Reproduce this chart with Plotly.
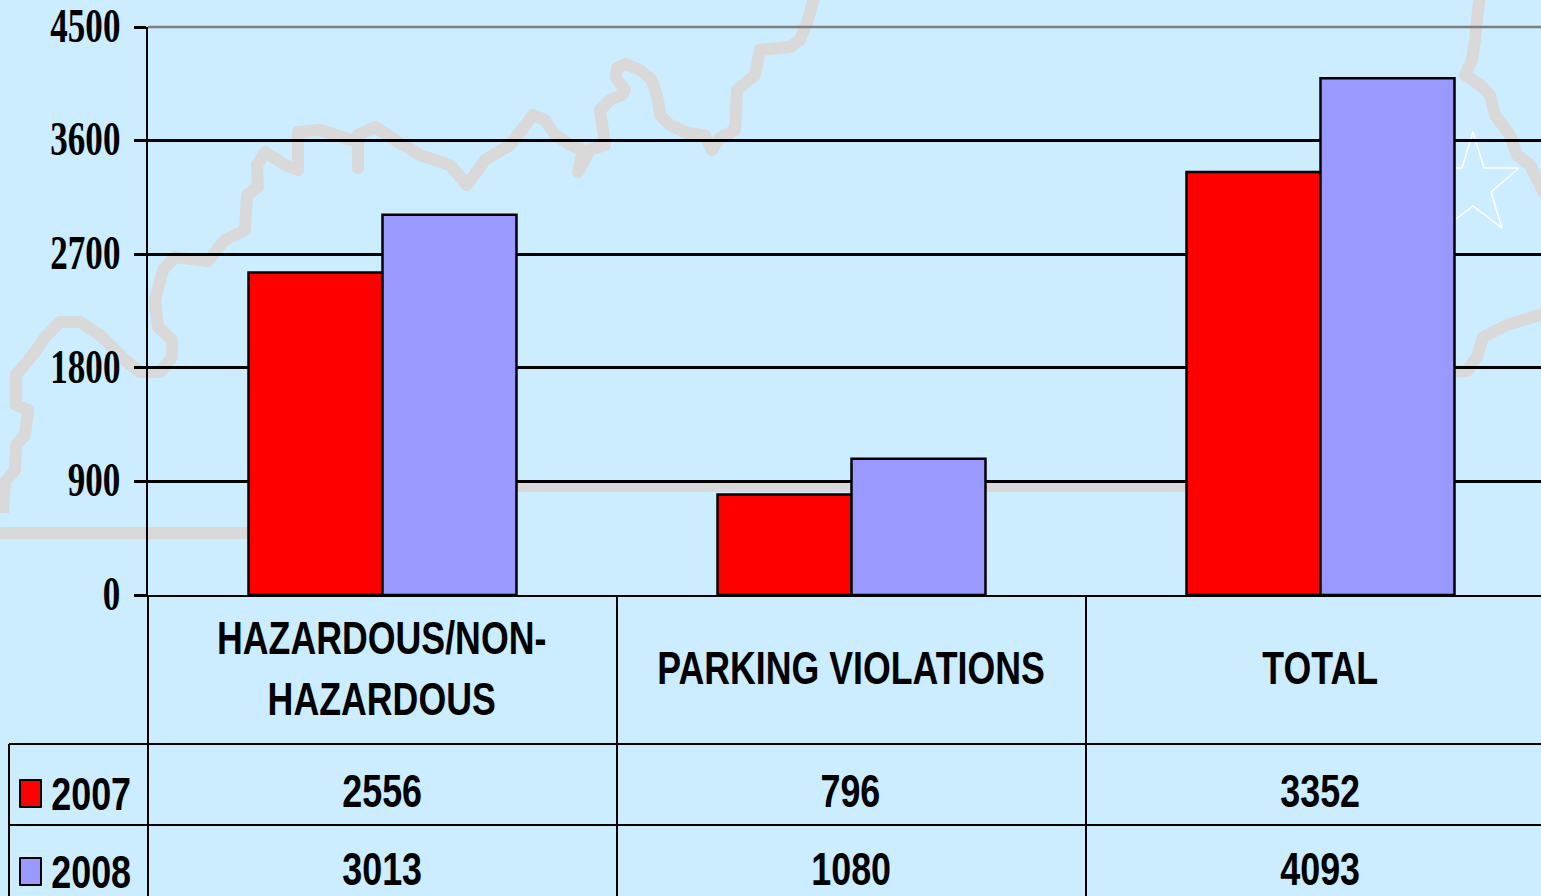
import plotly.graph_objects as go

# ---- data ----
categories = ["HAZARDOUS/NON-<br>HAZARDOUS", "PARKING VIOLATIONS", "TOTAL"]
series_names = ["2007", "2008"]
values_2007 = [2556, 796, 3352]
values_2008 = [3013, 1080, 4093]
y_ticks = [0, 900, 1800, 2700, 3600, 4500]

# ---- styling ----
BG = "#CCECFF"
RED = "#FF0000"
BLUE = "#9999FF"
MAP = "#D9D9D9"
W, H = 1541, 896
L, T, B0 = 148, 27, 595          # plot left, top and baseline in page pixels
COL = 469.0                      # category column width in pixels
PW, PH = W - L, B0 - T


def px(x):
    return (x - L) / PW


def py(y):
    return (B0 - y) / PH


def path(points, close=False):
    d = "M" + " L".join(f"{px(x):.5f},{py(y):.5f}" for x, y in points)
    return d + (" Z" if close else "")


# decorative background map outline, traced in page pixels
border_north = [(3, 513), (5, 482), (15, 470), (16, 445), (25, 435), (28, 410), (16, 405), (16, 375), (35, 352),
                (45, 337), (60, 322), (80, 322), (100, 335), (125, 360), (140, 372), (160, 372), (172, 357),
                (172, 340), (158, 327), (155, 300), (163, 270), (175, 257), (208, 261), (225, 240), (245, 230),
                (247, 195), (258, 187), (257, 165), (265, 152), (285, 165), (298, 170), (298, 132), (320, 130),
                (358, 142), (358, 168), (358, 135), (375, 127), (395, 140), (420, 155), (450, 165), (467, 185),
                (485, 160), (510, 145), (533, 115), (545, 120), (555, 135), (570, 145), (583, 150), (578, 172),
                (590, 150), (605, 145), (600, 110), (610, 100), (622, 95), (625, 90), (616, 78), (617, 68),
                (625, 64), (640, 70), (652, 80), (658, 100), (660, 115), (670, 125), (685, 132), (705, 136),
                (712, 150), (720, 138), (735, 130), (737, 90), (755, 75), (760, 50), (790, 47), (800, 40),
                (808, 20), (815, -5)]
border_south = [(0, 533), (248, 533), (500, 533), (500, 486), (1200, 486)]
border_east = [(1480, -5), (1478, 10), (1475, 40), (1472, 60), (1465, 75), (1480, 85), (1490, 95), (1495, 115),
               (1510, 135), (1517, 155), (1530, 165), (1545, 195)]
border_se = [(1545, 313), (1533, 317), (1507, 325), (1483, 337), (1477, 357), (1467, 371), (1440, 373)]
star = [(1473, 132), (1484, 168), (1519, 168), (1491, 192), (1502, 228), (1473, 206), (1444, 228), (1455, 192),
        (1427, 168), (1462, 168)]

shapes = []
for pts in (border_north, border_south, border_east, border_se):
    shapes.append(dict(type="path", path=path(pts), xref="paper", yref="paper", layer="below",
                       line=dict(color=MAP, width=12)))
shapes.append(dict(type="path", path=path(star, True), xref="paper", yref="paper", layer="below",
                   line=dict(color="white", width=1.5)))


def rule(x0, y0, x1, y1, color="black", width=2):
    shapes.append(dict(type="line", xref="paper", yref="paper", x0=px(x0), y0=py(y0), x1=px(x1), y1=py(y1),
                       line=dict(color=color, width=width)))


# data-table rules
rule(L, B0, L, H + 5)
rule(L + COL, B0, L + COL, H + 5)
rule(L + 2 * COL, B0, L + 2 * COL, H + 5)
rule(9, 744, W, 744)
rule(9, 825, W, 825)
rule(9, 744, 9, H + 5)
rule(L, T, W, T, "#7F7F7F", 2.5)  # top gridline is grey

# legend keys of the data table
for y0, y1, colour in ((780, 807, RED), (858, 885, BLUE)):
    shapes.append(dict(type="rect", xref="paper", yref="paper", x0=px(20), x1=px(41), y0=py(y0), y1=py(y1),
                       fillcolor=colour, line=dict(color="black", width=2)))

TXT = dict(family="Liberation Sans", size=46, color="black", weight=700)
CAT_TXT = dict(TXT, size=47)
annotations = []
for i, cat in enumerate(categories):
    annotations.append(dict(x=i, xref="x", y=py(667.5), yref="paper", text=cat, showarrow=False, font=CAT_TXT,
                            xanchor="center", yanchor="middle", xshift=-1))
for row_y, vals in ((791, values_2007), (869, values_2008)):
    for i, v in enumerate(vals):
        annotations.append(dict(x=i, xref="x", y=py(row_y), yref="paper", text=str(v), showarrow=False, font=TXT,
                                xanchor="center", yanchor="middle", xshift=-1))
for row_y, name in ((794, series_names[0]), (872, series_names[1])):
    annotations.append(dict(x=px(91), xref="paper", y=py(row_y), yref="paper", text=name, showarrow=False, font=TXT,
                            xanchor="center", yanchor="middle"))

fig = go.Figure()
for name, vals, colour in ((series_names[0], values_2007, RED), (series_names[1], values_2008, BLUE)):
    fig.add_trace(go.Bar(name=name, x=list(range(len(categories))), y=vals,
                         marker=dict(color=colour, line=dict(color="black", width=2.5)), showlegend=False,
                         hoverinfo="skip"))

fig.update_layout(
    width=W, height=H, autosize=False,
    margin=dict(l=L, r=0, t=T, b=H - B0, pad=0),
    paper_bgcolor=BG, plot_bgcolor="rgba(0,0,0,0)",
    barmode="group", bargap=0.4286, bargroupgap=0,
    shapes=shapes, annotations=annotations,
    xaxis=dict(range=[-0.5, -0.5 + PW / COL], showticklabels=False, showgrid=False, zeroline=False, ticks="",
               showline=True, linecolor="black", linewidth=2, tickmode="array", tickvals=[0, 1, 2]),
    yaxis=dict(range=[0, 4500], tickmode="array", tickvals=y_ticks, ticktext=[str(t) for t in y_ticks],
               ticks="outside", ticklen=12, tickwidth=2.5, tickcolor="black",
               showgrid=True, gridcolor="black", gridwidth=2.5, zeroline=False,
               showline=True, linecolor="black", linewidth=2, ticklabelstandoff=4,
               tickfont=dict(family="Liberation Serif", size=48, color="black", weight=700)),
)

# The reference uses horizontally condensed type: squeeze the real text elements in the page.
POST = """
document.body.style.margin='0';document.body.style.overflow='hidden';
(function(){
  var gd=document.getElementById('{plot_id}');
  function squeeze(sel,sxFor,right,dy){
    gd.querySelectorAll(sel).forEach(function(t,i){
      var base=t.getAttribute('data-base');
      if(base===null){base=t.getAttribute('transform')||'';t.setAttribute('data-base',base);}
      t.setAttribute('transform',base);
      var b=t.getBBox();
      var c=right?b.x+b.width:b.x+b.width/2;
      t.setAttribute('transform',base+' translate('+c+','+dy+') scale('+sxFor(i)+',1) translate('+(-c)+',0)');
    });
  }
  function apply(){
    squeeze('.annotation-text',function(i){return i<3?0.76:0.78;},false,0);
    squeeze('.ytick text',function(){return 0.73;},true,-2);
    gd.querySelectorAll('.shapelayer path').forEach(function(p){p.style.strokeLinejoin='round';});
  }
  setTimeout(apply,0);setTimeout(apply,300);
  if(gd.on){gd.on('plotly_afterplot',apply);}
})();
"""

fig.write_html("out.html", post_script=POST, config={"displayModeBar": False})
